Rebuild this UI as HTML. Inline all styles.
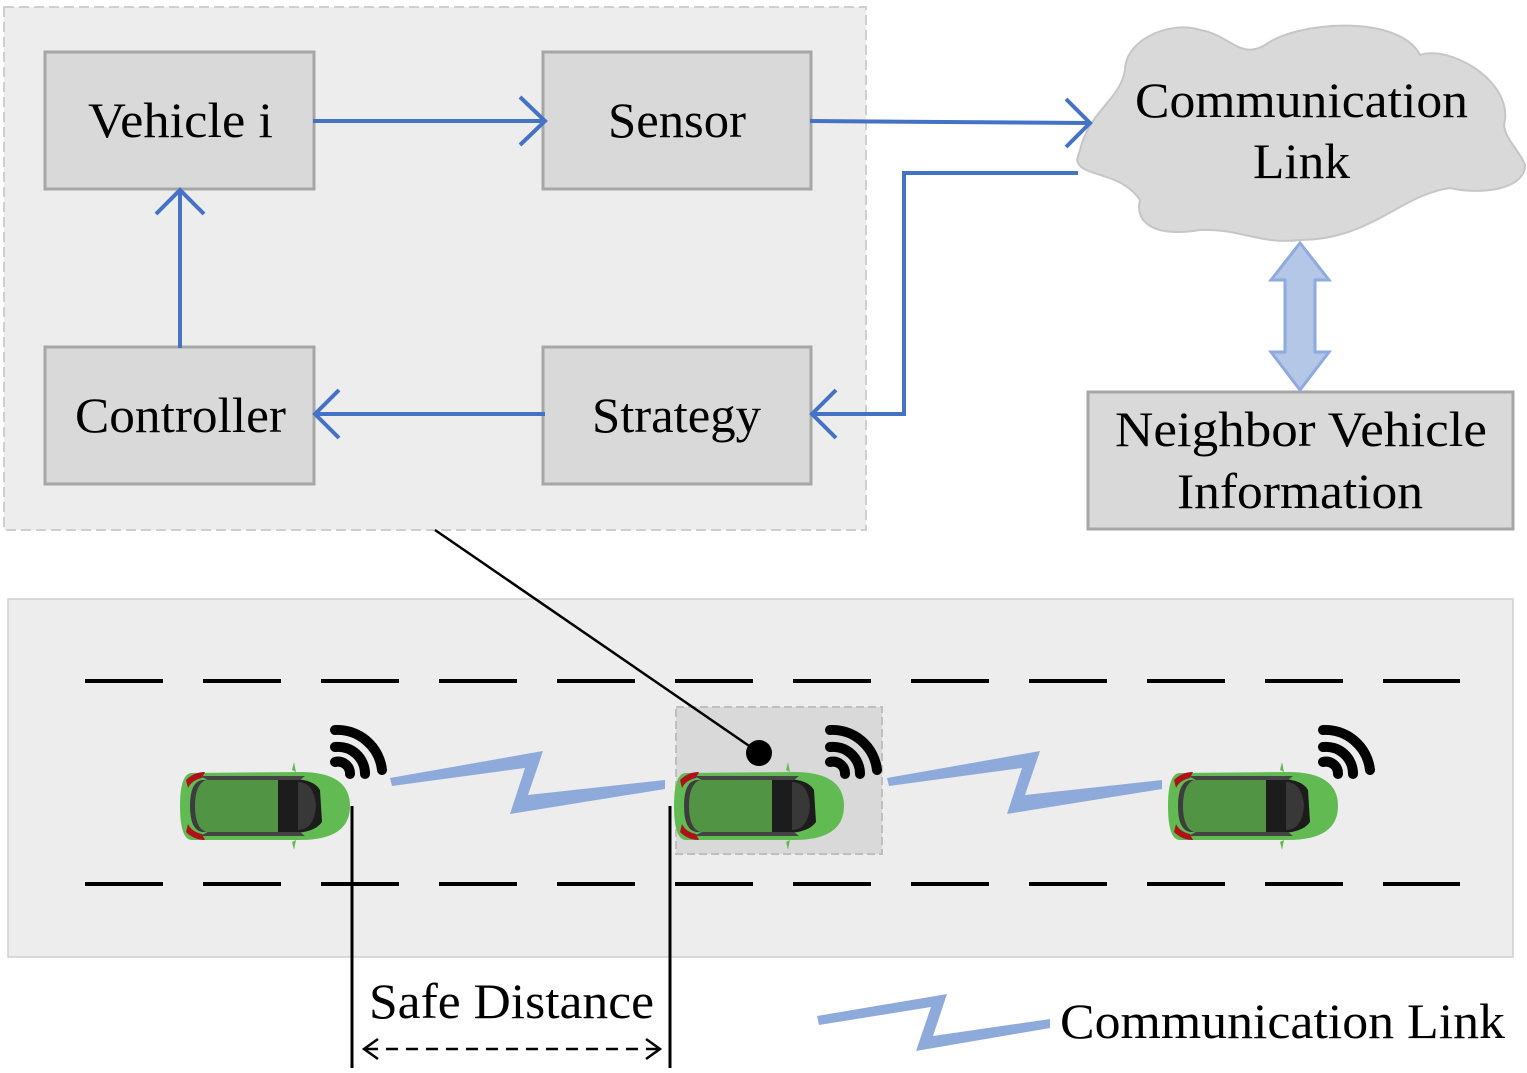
<!DOCTYPE html>
<html><head><meta charset="utf-8"><style>html,body{margin:0;padding:0;background:#fff}svg{display:block}</style></head><body>
<svg width="1527" height="1073" viewBox="0 0 1527 1073" xmlns="http://www.w3.org/2000/svg" font-family="Liberation Serif, serif">
<defs>
<g id="car">
<path d="M12,5 Q0,5 0,38 Q0,72 12,72 L120,72 Q170,72 170,38 Q170,4 120,4 Z" fill="#62bb52"/>
<path d="M6,12 Q14,4 25,4 L22,10 Q12,12 8,20Z M6,64 Q14,72 25,72 L22,66 Q12,64 8,56Z" fill="#b0101a"/>
<path d="M22,12 Q10,14 10,38 Q10,62 22,64 L100,66 L100,10Z" fill="#3d3d3d"/>
<path d="M26,12 Q15,16 15,38 Q15,60 26,64 L98,66 L98,10Z" fill="#519444"/>
<path d="M98,12 Q132,8 140,22 L142,54 Q132,68 98,64 Z" fill="#1c1c1c"/>
<path d="M118,14 Q134,14 136,38 Q134,62 118,62 Z" fill="#383838"/>
<path d="M20,8 L125,8 L120,12 L28,12Z M20,68 L125,68 L120,64 L28,64Z" fill="#444"/>
<path d="M112,2 L114,-6 L116,4Z M112,74 L114,82 L116,72Z" fill="#62bb52"/>
</g>
<g id="wifi" fill="none" stroke="#000" stroke-width="10" stroke-linecap="round">
<path d="M5,40 A12,12 0 0 1 20,52"/>
<path d="M5,25 A27,27 0 0 1 35,52"/>
<path d="M5,8 A45,45 0 0 1 52,48"/>
</g>
</defs>
<rect x="4" y="7" width="862" height="523" fill="#ededed" stroke="#cfcfcf" stroke-width="2" stroke-dasharray="10,5"/>
<g fill="#d9d9d9" stroke="#a6a6a6" stroke-width="3">
<rect x="45" y="52" width="269" height="137"/>
<rect x="543" y="52" width="268" height="137"/>
<rect x="45" y="347" width="269" height="137"/>
<rect x="543" y="347" width="268" height="137"/>
<rect x="1088" y="392" width="425" height="137"/>
</g>
<g font-size="50" fill="#000" lengthAdjust="spacingAndGlyphs">
<text x="88" y="137" textLength="185" lengthAdjust="spacingAndGlyphs">Vehicle i</text>
<text x="608" y="137" textLength="138" lengthAdjust="spacingAndGlyphs">Sensor</text>
<text x="75" y="432" textLength="211" lengthAdjust="spacingAndGlyphs">Controller</text>
<text x="592" y="432" textLength="169" lengthAdjust="spacingAndGlyphs">Strategy</text>
<text x="1115" y="446" textLength="372" lengthAdjust="spacingAndGlyphs">Neighbor Vehicle</text>
<text x="1177" y="508" textLength="246" lengthAdjust="spacingAndGlyphs">Information</text>
</g>
<path d="M1080,150 C1090,110 1120,100 1125,70 C1125,40 1170,20 1200,30 C1230,35 1240,60 1265,45 C1300,20 1400,15 1420,55 C1450,45 1510,80 1505,120 C1500,135 1520,150 1525,165 C1525,190 1480,195 1450,188 C1400,195 1370,240 1300,240 C1260,245 1240,228 1200,230 C1150,238 1135,220 1140,200 C1120,170 1080,178 1077,160 Z" fill="#d9d9d9" stroke="#c6c6c6" stroke-width="2"/>
<g font-size="50"><text x="1135" y="117" textLength="333" lengthAdjust="spacingAndGlyphs">Communication</text><text x="1253" y="178" textLength="97" lengthAdjust="spacingAndGlyphs">Link</text></g>
<g fill="none" stroke="#4472c4" stroke-width="4">
<path d="M313,121 H545 M520,97 L545,121 L520,145"/>
<path d="M810,121 L1090,123 M1066,99 L1090,123 L1066,147"/>
<path d="M1078,173 H904 V414 H812 M836,390 L812,414 L836,438"/>
<path d="M545,414 H315 M339,390 L315,414 L339,438"/>
<path d="M180,348 V190 M156,214 L180,190 L204,214"/>
</g>
<path d="M1300,243 L1329,280 L1315,280 L1315,352 L1329,352 L1300,390 L1271,352 L1285,352 L1285,280 L1271,280 Z" fill="#b4c7e7" stroke="#8faadc" stroke-width="3"/>
<rect x="8" y="599" width="1505" height="358" fill="#ededed" stroke="#cfcfcf" stroke-width="1.5"/>
<g stroke="#000" stroke-width="4" stroke-dasharray="78,40">
<line x1="85" y1="681" x2="1460" y2="681"/>
<line x1="85" y1="884" x2="1460" y2="884"/>
</g>
<rect x="676" y="707" width="206" height="147" fill="#d9d9d9" stroke="#bfbfbf" stroke-width="2" stroke-dasharray="8,4"/>
<line x1="435" y1="530" x2="758" y2="752" stroke="#000" stroke-width="2.5"/>
<circle cx="759" cy="753" r="13" fill="#000"/>
<use href="#car" x="180" y="768"/>
<use href="#car" x="674" y="768"/>
<use href="#car" x="1168" y="768"/>
<use href="#wifi" x="330" y="722"/>
<use href="#wifi" x="825" y="722"/>
<use href="#wifi" x="1318" y="722"/>
<g fill="#8eaadb">
<polygon points="390,778 543,751 528,795 665,780 665,789 510,814 525,768 392,786"/>
<polygon points="887,778 1040,751 1025,795 1162,780 1162,789 1007,814 1022,768 889,786"/>
<polygon points="817,1016 947,994 933,1036 1050,1019 1050,1028 916,1051 931,1007 819,1025"/>
</g>
<g stroke="#000" stroke-width="3">
<line x1="352" y1="806" x2="352" y2="1068"/>
<line x1="670" y1="806" x2="670" y2="1068"/>
</g>
<g fill="none" stroke="#000" stroke-width="2.5">
<line x1="366" y1="1049" x2="658" y2="1049" stroke-dasharray="12,8"/>
<path d="M378,1039 L364,1049 L378,1059 M646,1039 L660,1049 L646,1059"/>
</g>
<text x="369" y="1018" font-size="50" textLength="285" lengthAdjust="spacingAndGlyphs">Safe Distance</text>
<text x="1060" y="1038" font-size="50" textLength="445" lengthAdjust="spacingAndGlyphs">Communication Link</text>
</svg>
</body></html>
